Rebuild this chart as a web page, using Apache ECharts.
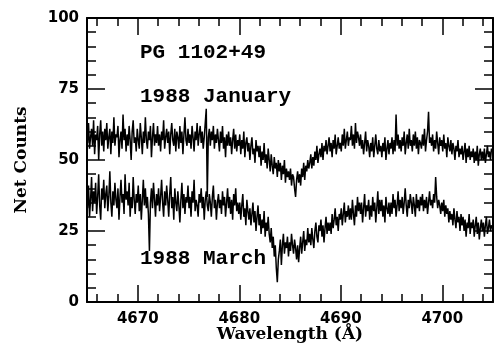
<!DOCTYPE html>
<html><head><meta charset="utf-8">
<script src="https://cdn.jsdelivr.net/npm/echarts@6/dist/echarts.min.js"></script>
<style>html,body{margin:0;padding:0;background:#fff}#c{width:495px;height:347px}</style>
</head><body><div id="c"></div>
<script>
// Spectra sampled every 0.1 Å from 4665.0 Å (one row per Å)
const waveStart = 4665.0;
const waveStep = 0.1;
const january = [
 60,56,63,54,58,61,55,64,52,59,
 57,62,50,59,64,55,60,53,61,57,
 63,54,58,61,52,60,56,65,55,59,
 58,62,51,57,60,54,66,57,61,53,
 59,55,62,57,50,60,64,56,58,53,
 61,57,54,63,58,52,60,56,65,57,
 54,60,57,62,51,58,63,55,59,56,
 62,55,59,53,60,57,64,54,58,61,
 56,60,52,59,63,57,55,61,53,60,
 58,54,62,56,60,52,59,65,57,55,
 61,56,59,54,62,58,53,60,57,63,
 55,59,62,56,60,54,58,63,68,37,
 58,61,55,60,57,62,54,59,56,61,
 57,53,60,56,62,54,58,51,59,55,
 60,55,58,52,57,61,54,59,53,57,
 55,59,52,57,54,60,51,56,58,53,
 56,50,55,58,52,54,49,57,53,55,
 51,55,48,53,50,56,49,52,47,54,
 50,46,52,48,45,51,47,49,44,50,
 46,49,43,48,45,50,42,47,44,46,
 43,47,41,45,44,40,37,43,46,42,
 45,41,47,44,49,43,48,46,50,47,
 49,52,47,51,48,53,50,55,49,52,
 54,51,56,50,55,53,57,52,55,58,
 53,56,51,57,54,59,52,55,58,54,
 56,53,59,55,61,54,57,60,55,58,
 57,62,55,59,54,63,56,60,58,55,
 59,54,57,52,56,60,53,57,55,51,
 56,53,58,51,55,59,54,52,57,53,
 55,51,56,53,58,50,54,57,52,56,
 54,58,52,57,53,66,55,59,54,57,
 53,58,55,60,52,56,59,54,61,55,
 57,53,59,55,60,54,58,52,57,56,
 54,59,55,61,53,57,60,67,56,58,
 55,59,53,57,54,60,56,52,58,55,
 57,53,59,54,56,51,58,55,53,57,
 52,56,54,50,55,53,57,51,54,52,
 55,50,53,56,49,54,51,55,50,53,
 51,54,49,53,50,55,48,52,54,50,
 53,50,54,49,52,55,51,53,50,54,
 53
];
const march = [
 38,33,41,30,36,44,32,39,35,42,
 31,37,45,34,29,40,36,43,33,38,
 41,32,37,46,35,30,39,34,42,36,
 33,40,29,37,43,35,38,31,45,36,
 39,34,42,30,37,33,44,36,31,38,
 35,41,32,38,29,36,43,34,40,33,
 37,31,18,35,40,33,42,36,30,38,
 34,40,32,37,43,35,30,39,34,41,
 36,30,38,44,33,37,29,40,35,32,
 39,34,28,36,42,33,38,31,37,35,
 41,33,37,30,39,35,43,32,36,34,
 30,38,35,40,33,37,29,36,39,34,
 32,38,35,30,37,41,33,36,29,35,
 38,33,36,31,39,34,37,30,35,40,
 33,37,31,36,29,38,34,40,32,35,
 31,35,29,34,38,30,33,27,36,32,
 29,33,27,31,35,28,32,25,30,34,
 27,31,24,29,26,32,23,28,25,30,
 24,21,26,19,23,16,20,12,7,15,
 18,22,13,20,24,17,21,19,23,16,
 21,18,24,20,17,22,19,15,20,14,
 19,23,17,21,25,18,22,20,26,21,
 24,20,26,22,19,25,28,23,21,27,
 25,29,23,27,21,26,30,24,28,25,
 28,24,31,26,29,33,27,30,25,31,
 29,33,27,31,35,28,32,30,34,29,
 33,29,36,31,27,34,30,37,32,35,
 31,35,28,33,38,30,34,32,36,29,
 34,30,37,32,35,28,33,39,31,36,
 32,36,30,34,28,37,33,31,35,30,
 35,31,38,33,36,30,34,39,32,36,
 33,37,31,35,40,34,30,36,33,38,
 35,31,37,34,30,38,33,36,32,37,
 34,38,32,36,33,37,31,35,39,34,
 36,33,38,35,44,37,33,36,34,31,
 35,32,36,30,34,31,33,28,32,29,
 31,27,33,29,26,32,28,30,25,31,
 27,30,25,29,23,28,26,31,24,28,
 26,29,23,27,30,24,28,22,26,29,
 25,28,23,27,30,24,26,29,25,27,
 26
];
const xMajorTicks = [4670, 4680, 4690, 4700];
const xMinorTicks = [4666,4668,4672,4674,4676,4678,4682,4684,4686,4688,4692,4694,4696,4698,4702,4704];
const yRange = [0, 100];
const xRange = [4665, 4705];
const labels = [
  {text: 'PG 1102+49', x: 140, y: 53},
  {text: '1988 January', x: 140, y: 97},
  {text: '1988 March', x: 140, y: 259}
];

function toPairs(vals) {
  return vals.map((v, i) => [Math.round((waveStart + i * waveStep) * 100) / 100, v]);
}

function labelFont() {
  return {fontFamily: 'DejaVu Sans', fontWeight: 'bold', fontSize: 15, color: '#000'};
}
function titleFont() {
  return {fontFamily: 'DejaVu Serif', fontWeight: 'bold', fontSize: 17, color: '#000'};
}

function xAxisDef(pos, major, withLabels) {
  const ax = {
    type: 'value', position: pos, min: xRange[0], max: xRange[1], z: 10,
    axisLine: {show: major, onZero: false, lineStyle: {color: '#000', width: 2}},
    axisTick: {show: true, inside: true, length: major ? 17 : 8,
      customValues: major ? xMajorTicks.slice() : xMinorTicks.slice(),
      lineStyle: {color: '#000', width: 1.5}},
    axisLabel: Object.assign({show: withLabels, customValues: xMajorTicks.slice(), margin: 10,
      formatter: v => String(v)}, labelFont()),
    splitLine: {show: false}
  };
  if (withLabels) {
    ax.name = 'Wavelength (Å)';
    ax.nameLocation = 'middle';
    ax.nameGap = 24;
    ax.nameMoveOverlap = false;
    ax.nameTextStyle = titleFont();
  }
  return ax;
}
function yAxisDef(pos, withLabels) {
  const ax = {
    type: 'value', position: pos, min: yRange[0], max: yRange[1], interval: 25, z: 10,
    axisLine: {show: true, onZero: false, lineStyle: {color: '#000', width: 2}},
    axisTick: {show: true, inside: true, length: 18, lineStyle: {color: '#000', width: 1.5}},
    minorTick: {show: true, splitNumber: 5, length: 9, lineStyle: {color: '#000', width: 1.5}},
    axisLabel: Object.assign({show: withLabels, margin: 8}, labelFont()),
    splitLine: {show: false}
  };
  if (withLabels) {
    ax.name = 'Net Counts';
    ax.nameLocation = 'middle';
    ax.nameGap = 57;
    ax.nameMoveOverlap = false;
    ax.nameTextStyle = titleFont();
  }
  return ax;
}

const chart = echarts.init(document.getElementById('c'));
chart.setOption({
  animation: false,
  backgroundColor: '#fff',
  grid: {left: 87, right: 2, top: 18, bottom: 45, outerBoundsMode: 'none'},
  xAxis: [
    xAxisDef('bottom', true, true),
    xAxisDef('bottom', false, false),
    xAxisDef('top', true, false),
    xAxisDef('top', false, false)
  ],
  yAxis: [yAxisDef('left', true), yAxisDef('right', false)],
  series: [
    {type: 'line', step: 'middle', showSymbol: false, data: toPairs(january),
     lineStyle: {color: '#000', width: 1.5}, itemStyle: {color: '#000'}, silent: true},
    {type: 'line', step: 'middle', showSymbol: false, data: toPairs(march),
     lineStyle: {color: '#000', width: 1.5}, itemStyle: {color: '#000'}, silent: true}
  ],
  graphic: labels.map(l => ({
    type: 'text', left: l.x, top: l.y - 11,
    style: {text: l.text, fontFamily: 'Liberation Mono', fontWeight: 'bold', fontSize: 21, fill: '#000'}
  }))
});
</script></body></html>
